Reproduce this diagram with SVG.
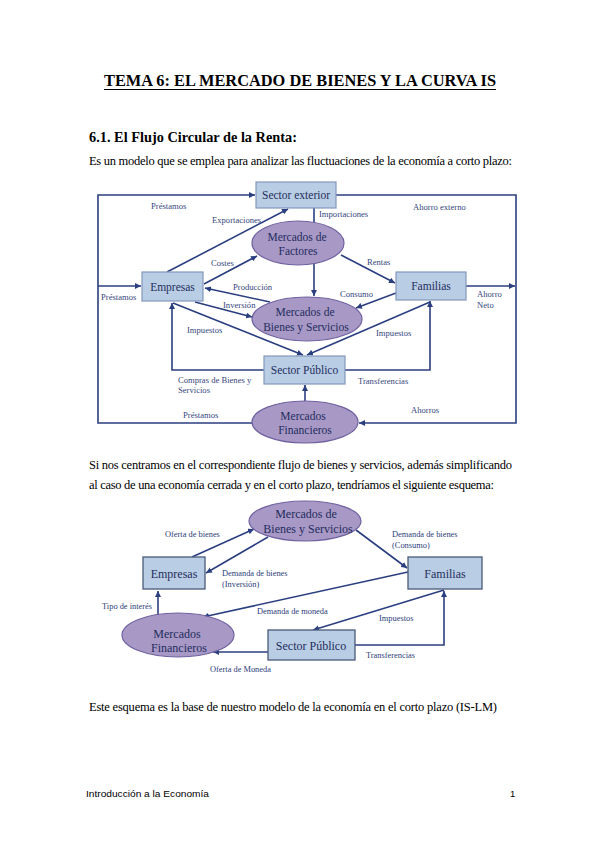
<svg xmlns="http://www.w3.org/2000/svg" width="599" height="848" viewBox="0 0 599 848">
<style>
.serif{font-family:"Liberation Serif","Times New Roman",serif;}
.title{font-size:16px;font-weight:bold;fill:#000;}
.head{font-size:14.5px;font-weight:bold;fill:#000;}
.body{font-size:12.5px;fill:#000;}
.node{font-size:11.5px;fill:#1f2d5c;text-anchor:middle;}
.lbl{font-size:8.6px;fill:#34467e;}
.lbl2{font-size:8.4px;fill:#2c3d7a;}
.box{fill:#b9cde5;stroke:#8398bb;stroke-width:1.2;}
.box2{fill:#b9cde5;stroke:#4a5a78;stroke-width:1.3;}
.ell{fill:#a898c6;stroke:#6f61a0;stroke-width:1.2;}
.con{fill:none;stroke:#2b3f80;stroke-width:1.6;}
.foot{font-family:"Liberation Sans",Arial,sans-serif;font-size:9.5px;fill:#000;}
</style>
<defs>
<marker id="ah" viewBox="0 0 6 6" refX="6" refY="3" markerWidth="6" markerHeight="6" markerUnits="userSpaceOnUse" orient="auto">
<path d="M0,0 L6,3 L0,6 z" fill="#2b3f80"/>
</marker>
</defs>
<rect width="599" height="848" fill="#fff"/>

<!-- page text -->
<text class="serif title" x="300" y="86" text-anchor="middle" textLength="392" lengthAdjust="spacingAndGlyphs">TEMA 6: EL MERCADO DE BIENES Y LA CURVA IS</text>
<line x1="104" y1="89.5" x2="496" y2="89.5" stroke="#000" stroke-width="1.2"/>
<text class="serif head" x="89" y="142" textLength="208" lengthAdjust="spacingAndGlyphs">6.1. El Flujo Circular de la Renta:</text>
<text class="serif body" x="89" y="165" textLength="423" lengthAdjust="spacing">Es un modelo que se emplea para analizar las fluctuaciones de la economía a corto plazo:</text>
<text class="serif body" x="89" y="469" textLength="423" lengthAdjust="spacing">Si nos centramos en el correspondiente flujo de bienes y servicios, además simplificando</text>
<text class="serif body" x="89" y="489" textLength="405" lengthAdjust="spacing">al caso de una economía cerrada y en el corto plazo, tendríamos el siguiente esquema:</text>
<text class="serif body" x="89" y="711" textLength="408" lengthAdjust="spacing">Este esquema es la base de nuestro modelo de la economía en el corto plazo (IS-LM)</text>
<text class="foot" x="86" y="797" textLength="123" lengthAdjust="spacingAndGlyphs">Introducción a la Economía</text>
<text class="foot" x="510" y="797">1</text>

<!-- Diagram 1 connectors -->
<g id="connectors1">
<path class="con" d="M253,423 L98,423 L98,195 L255,195" marker-end="url(#ah)"/>
<path class="con" d="M98,286 L141,286" marker-end="url(#ah)"/>
<path class="con" d="M336,195 L516,195 L516,423 L359,423" marker-end="url(#ah)"/>
<path class="con" d="M466,286 L515,286" marker-end="url(#ah)"/>
<path class="con" d="M167,272 L288,209" marker-end="url(#ah)"/>
<path class="con" d="M314,208 L314,296" marker-end="url(#ah)"/>
<path class="con" d="M204,284 L257,256" marker-end="url(#ah)"/>
<path class="con" d="M270,302 L205,288" marker-end="url(#ah)"/>
<path class="con" d="M195,302 L252,317" marker-end="url(#ah)"/>
<path class="con" d="M173,303 L303,355" marker-end="url(#ah)"/>
<path class="con" d="M264,370 L172,370 L172,303" marker-end="url(#ah)"/>
<path class="con" d="M430,302 L307,355" marker-end="url(#ah)"/>
<path class="con" d="M345,370 L430,370 L430,301" marker-end="url(#ah)"/>
<path class="con" d="M396,293 L356,308" marker-end="url(#ah)"/>
<path class="con" d="M341,255 L395,283" marker-end="url(#ah)"/>
<path class="con" d="M305,401 L305,385" marker-end="url(#ah)"/>
</g>

<!-- Diagram 1 nodes -->
<g id="sector-exterior"><rect class="box" x="256" y="182" width="80" height="26"/><text class="serif node" x="296" y="199">Sector exterior</text></g>
<g id="mercados-factores"><ellipse class="ell" cx="298" cy="243" rx="46" ry="22"/><text class="serif node" x="297" y="241">Mercados de</text><text class="serif node" x="298" y="255">Factores</text></g>
<g id="empresas1"><rect class="box" x="142" y="272" width="61" height="29"/><text class="serif node" x="172.5" y="291">Empresas</text></g>
<g id="familias1"><rect class="box" x="396" y="272" width="70" height="28"/><text class="serif node" x="431" y="290">Familias</text></g>
<g id="mercados-bienes1"><ellipse class="ell" cx="307" cy="319" rx="55" ry="22"/><text class="serif node" x="305" y="316">Mercados de</text><text class="serif node" x="306" y="331">Bienes y Servicios</text></g>
<g id="sector-publico1"><rect class="box" x="264" y="356" width="81" height="28"/><text class="serif node" x="304.5" y="374">Sector Público</text></g>
<g id="mercados-financieros1"><ellipse class="ell" cx="305" cy="422" rx="53" ry="21"/><text class="serif node" x="303" y="420">Mercados</text><text class="serif node" x="305" y="434">Financieros</text></g>

<!-- Diagram 1 labels -->
<g id="labels1" class="serif lbl">
<text x="151" y="209">Préstamos</text>
<text x="212" y="223">Exportaciones</text>
<text x="319" y="217">Importaciones</text>
<text x="413" y="210">Ahorro externo</text>
<text x="211" y="266">Costes</text>
<text x="367" y="265">Rentas</text>
<text x="233" y="290">Producción</text>
<text x="223" y="308">Inversión</text>
<text x="340" y="297">Consumo</text>
<text x="477" y="297">Ahorro</text>
<text x="477" y="308">Neto</text>
<text x="101" y="300">Préstamos</text>
<text x="187" y="333">Impuestos</text>
<text x="376" y="336">Impuestos</text>
<text x="178" y="383">Compras de Bienes y</text>
<text x="178" y="393">Servicios</text>
<text x="358" y="384">Transferencias</text>
<text x="183" y="418">Préstamos</text>
<text x="411" y="413">Ahorros</text>
</g>

<!-- Diagram 2 connectors -->
<g id="connectors2">
<path class="con" d="M192,557 L254,529" marker-end="url(#ah)"/>
<path class="con" d="M268,537 L206,573" marker-end="url(#ah)"/>
<path class="con" d="M356,530 L407,568" marker-end="url(#ah)"/>
<path class="con" d="M158,615 L158,591" marker-end="url(#ah)"/>
<path class="con" d="M408,572 L203,617" marker-end="url(#ah)"/>
<path class="con" d="M444,590 L313,630" marker-end="url(#ah)"/>
<path class="con" d="M355,645 L444,645 L444,591" marker-end="url(#ah)"/>
<path class="con" d="M268,652 L213,652" marker-end="url(#ah)"/>
</g>

<!-- Diagram 2 nodes -->
<g id="mercados-bienes2"><ellipse class="ell" cx="305" cy="521" rx="56" ry="20"/><text class="serif node" x="306" y="518" style="font-size:12px">Mercados de</text><text class="serif node" x="308" y="533" style="font-size:12px">Bienes y Servicios</text></g>
<g id="empresas2"><rect class="box2" x="143" y="557" width="62" height="32"/><text class="serif node" x="174" y="578" style="font-size:12px">Empresas</text></g>
<g id="familias2"><rect class="box2" x="408" y="557" width="74" height="32"/><text class="serif node" x="445" y="578" style="font-size:12px">Familias</text></g>
<g id="mercados-financieros2"><ellipse class="ell" cx="178" cy="635" rx="56" ry="22"/><text class="serif node" x="177" y="638" style="font-size:12px">Mercados</text><text class="serif node" x="179" y="652" style="font-size:12px">Financieros</text></g>
<g id="sector-publico2"><rect class="box2" x="268" y="630" width="87" height="30"/><text class="serif node" x="311" y="650" style="font-size:12px">Sector Público</text></g>

<!-- Diagram 2 labels -->
<g id="labels2" class="serif lbl2">
<text x="165" y="537">Oferta de bienes</text>
<text x="222" y="576">Demanda de bienes</text>
<text x="222" y="587">(Inversión)</text>
<text x="392" y="537">Demanda de bienes</text>
<text x="392" y="548">(Consumo)</text>
<text x="152" y="609" text-anchor="end">Tipo de interés</text>
<text x="257" y="614">Demanda de moneda</text>
<text x="379" y="621">Impuestos</text>
<text x="366" y="658">Transferencias</text>
<text x="210" y="672">Oferta de Moneda</text>
</g>
</svg>
